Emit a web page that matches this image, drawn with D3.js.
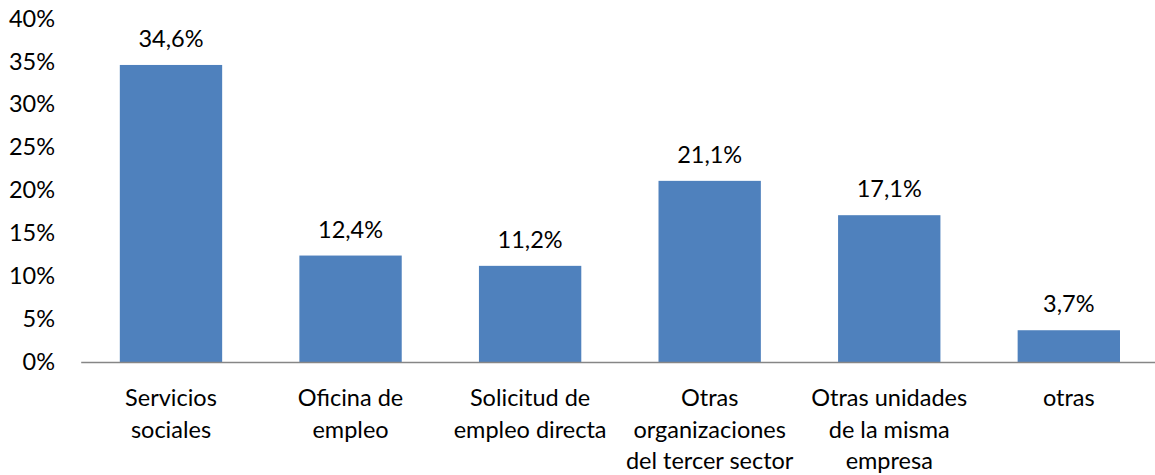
<!DOCTYPE html>
<html>
<head>
<meta charset="utf-8">
<script src="https://cdn.jsdelivr.net/npm/d3@7"></script>
<style>
  body { margin: 0; background: #fff; }
  #chart { width: 1155px; height: 475px; }
  text { font-family: Lato, "Open Sans", sans-serif; fill: #000; }
</style>
</head>
<body>
<div id="chart"></div>
<script>
//Datos
const categorias = [
    ['Servicios', 'sociales'],
    ['Oficina de', 'empleo'],
    ['Solicitud de', 'empleo directa'],
    ['Otras', 'organizaciones', 'del tercer sector'],
    ['Otras unidades', 'de la misma', 'empresa'],
    ['otras']
];
const valores = [34.6, 12.4, 11.2, 21.1, 17.1, 3.7];
const ticksY = [0, 5, 10, 15, 20, 25, 30, 35, 40];

const COLOR_BAR = '#4F81BD', COLOR_AXIS = '#868686';
const FONT = '23.5px';

let width = 1155, height = 475;
let margin = {top: 18.6, left: 81.2, right: -3.6, bottom: 113};

let svg = d3.select('#chart')
    .append('svg')
    .attr('width', width)
    .attr('height', height);

let x = d3.scaleBand()
    .domain(d3.range(valores.length))
    .range([margin.left, width - margin.right])
    .paddingInner(0.43)
    .paddingOuter(0.215);

let y = d3.scaleLinear()
    .domain([0, 40])
    .range([height - margin.bottom, margin.top]);

//Eje Y (solo etiquetas)
svg.append('g')
    .selectAll('text')
    .data(ticksY)
    .enter()
    .append('text')
    .attr('x', 55)
    .attr('y', d => y(d) + 8)
    .attr('text-anchor', 'end')
    .style('font-size', FONT)
    .text(d => d + '%');

//Barras
svg.selectAll('.bars')
    .data(valores)
    .enter()
    .append('rect')
    .attr('class', 'bars')
    .attr('x', (d, i) => x(i))
    .attr('y', d => y(d))
    .attr('width', x.bandwidth())
    .attr('height', d => y(0) - y(d))
    .attr('fill', COLOR_BAR);

//Etiquetas de valor
svg.selectAll('.labels')
    .data(valores)
    .enter()
    .append('text')
    .attr('class', 'labels')
    .attr('x', (d, i) => x(i) + x.bandwidth() / 2)
    .attr('y', d => y(d) - 18)
    .attr('text-anchor', 'middle')
    .style('font-size', FONT)
    .text(d => d.toFixed(1).replace('.', ',') + '%');

//Eje X
svg.append('line')
    .attr('x1', margin.left)
    .attr('x2', width)
    .attr('y1', y(0) + 0.5)
    .attr('y2', y(0) + 0.5)
    .attr('stroke', COLOR_AXIS)
    .attr('stroke-width', 1.5);

let cat = svg.selectAll('.cat')
    .data(categorias)
    .enter()
    .append('text')
    .attr('class', 'cat')
    .attr('text-anchor', 'middle')
    .style('font-size', FONT);

cat.selectAll('tspan')
    .data((d, i) => d.map(t => ({t: t, i: i})))
    .enter()
    .append('tspan')
    .attr('x', d => x(d.i) + x.bandwidth() / 2)
    .attr('y', (d, j) => y(0) + 44 + j * 31.5)
    .text(d => d.t);
</script>
</body>
</html>
